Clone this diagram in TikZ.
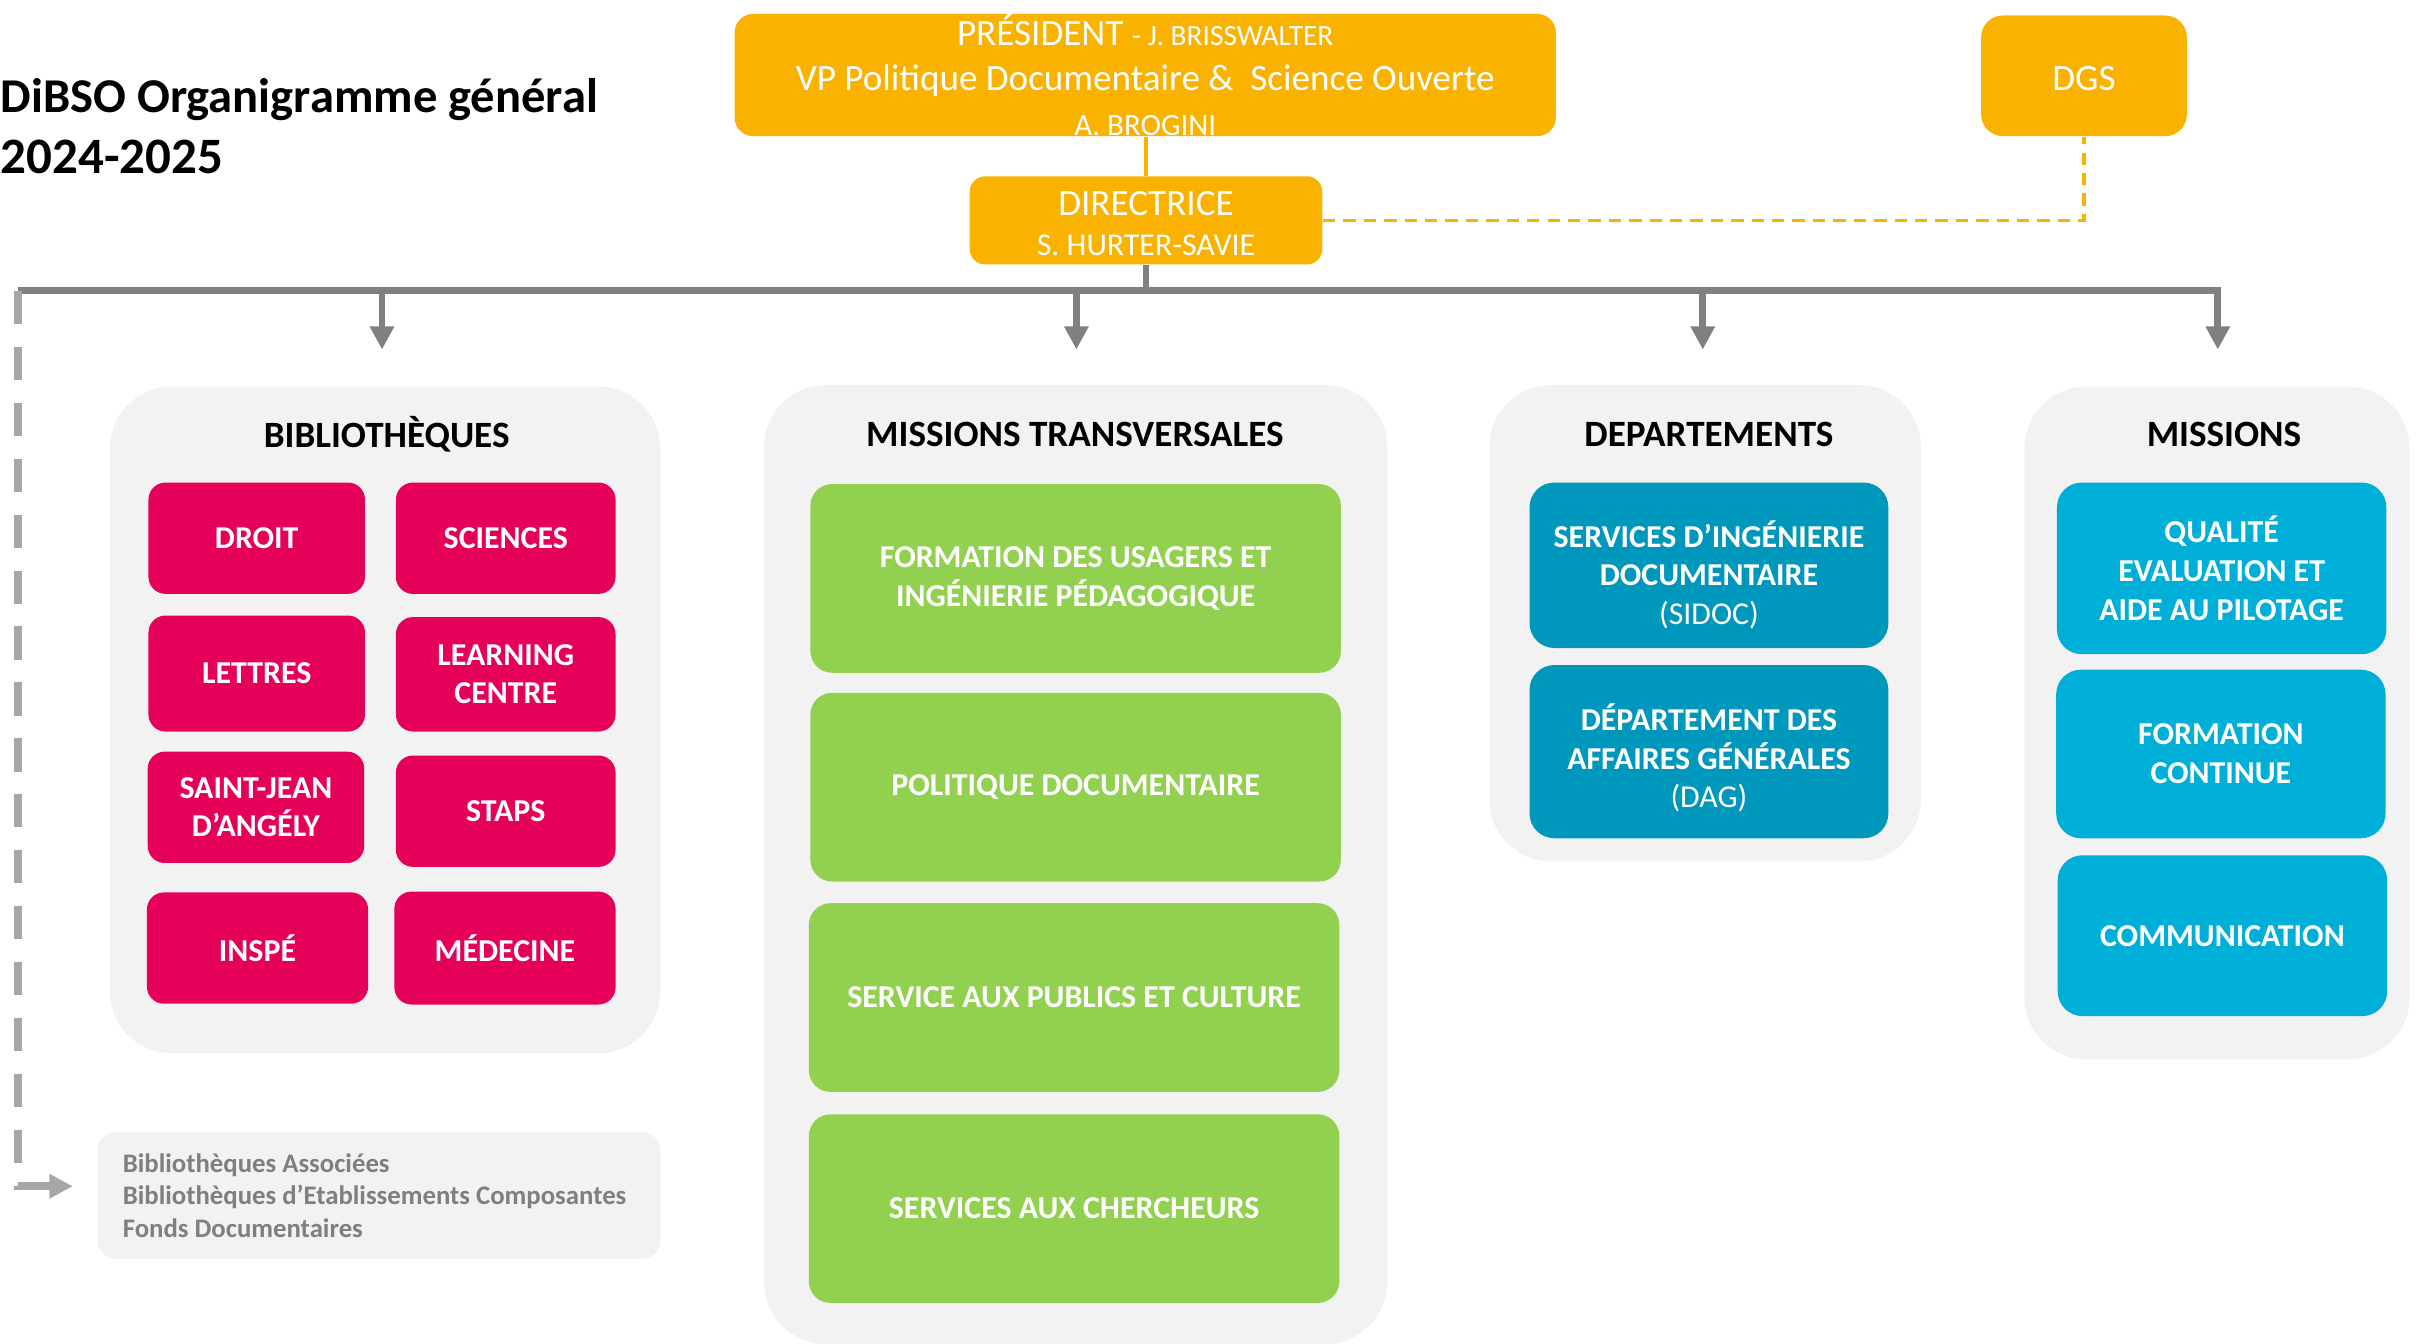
\documentclass[tikz,border=0pt]{standalone}
\usepackage{fontspec}
\setmainfont{Carlito}
\usetikzlibrary{arrows.meta}
\definecolor{orangeC}{RGB}{249,178,0}
\definecolor{pinkC}{RGB}{229,0,90}
\definecolor{greenC}{RGB}{146,208,80}
\definecolor{tealC}{RGB}{0,151,188}
\definecolor{cyanC}{RGB}{0,175,215}
\definecolor{panelC}{RGB}{242,242,242}
\definecolor{treeC}{RGB}{128,128,128}
\definecolor{dashC}{RGB}{166,166,166}
\definecolor{greytext}{RGB}{127,127,127}
\begin{document}
\begin{tikzpicture}[x=0.5pt,y=-0.5pt,
  panel/.style={fill=panelC, rounded corners=20pt, inner sep=0pt},
  ptitle/.style={font=\fontsize{12}{14}\selectfont\bfseries, text=black},
  boxfont/.style={text=white, align=center, inner sep=0pt,
    font=\fontsize{10.3}{12.5}\selectfont\bfseries},
  box/.style={rounded corners=6pt, boxfont},
  pinkbox/.style={box, fill=pinkC, rounded corners=5.5pt},
  greenbox/.style={box, fill=greenC, rounded corners=7pt, minimum width=171.5pt, minimum height=61pt},
  tealbox/.style={box, fill=tealC, rounded corners=8pt, minimum width=116pt},
  cyanbox/.style={box, fill=cyanC, rounded corners=8pt, minimum width=106.5pt},
  orbox/.style={fill=orangeC, text=white, align=center, inner sep=0pt},
  treeline/.style={draw=treeC, line width=2.2pt},
  tiptri/.style={-{Triangle[length=7.5pt,width=7.5pt]}},
  dashline/.style={draw=dashC, line width=2.6pt, dash pattern=on 10.7pt off 7.39pt},
  orline/.style={draw=orangeC, line width=1.5pt},
  ordash/.style={draw=orangeC, line width=1.1pt, dash pattern=on 4pt off 2.6pt}
]
\useasboundingbox (0,0) rectangle (1568,869);

% title
\node[anchor=base west, inner sep=0pt, font=\fontsize{15.7}{20}\selectfont\bfseries] (title1) at (0,73) {DiBSO Organigramme général};
\node[anchor=base west, inner sep=0pt, font=\fontsize{16.5}{20}\selectfont\bfseries] (title2) at (0,112) {2024-2025};

% top boxes
\node[orbox, rounded corners=6pt, minimum width=265.5pt, minimum height=39.5pt,
  font=\fontsize{12}{14.5}\selectfont] (pres) at (740.5,48.5)
  {PRÉSIDENT {\fontsize{9.5}{14.5}\selectfont - J. BRISSWALTER}\\
   VP Politique Documentaire \&\ \ Science Ouverte\\
   {\fontsize{10}{14.5}\selectfont A. BROGINI}};
\node[orbox, rounded corners=5pt, minimum width=114pt, minimum height=28.5pt,
  font=\fontsize{12}{13}\selectfont,
  label={[orbox, fill=none, font=\fontsize{12}{13}\selectfont, yshift=-1pt]center:{DIRECTRICE\\ {\fontsize{10.3}{13}\selectfont S. HURTER-SAVIE}}}]
  (dir) at (741,142.5) {};
\node[orbox, rounded corners=7pt, minimum width=66.5pt, minimum height=39pt,
  font=\fontsize{12}{14}\selectfont,
  label={[orbox, fill=none, font=\fontsize{12}{14}\selectfont, yshift=-1pt]center:DGS}] (dgs) at (1347.5,49) {};

% connectors top
\draw[orline] (dir.north |- pres.south) -- (dir.north);
\draw[ordash] (dir.east) -- (dir.east -| dgs.south) -- (dgs.south);

% tree
\coordinate (busL) at (11.6,188);
\coordinate (busR) at (1434,188);
\coordinate (tipB) at (247,226);
\coordinate (tipT) at (696,226);
\coordinate (tipD) at (1101,226);
\coordinate (tipM) at (1434,226);
\coordinate (elbow) at (11.6,767);
\coordinate (tipA) at (47,767);
\draw[treeline] (dir.south) -- (dir.south |- busL);
\draw[treeline, tiptri, line join=miter] (busL) -- (busR) -- (tipM);
\foreach \t in {tipB,tipT,tipD} \draw[treeline, tiptri] (\t |- busL) -- (\t);
\draw[dashline, tiptri, line join=miter] (busL) -- (elbow) -- (tipA);

% panels
\node[panel, minimum width=178pt, minimum height=215.5pt] (pbib) at (249,465.5) {};
\node[panel, minimum width=201.5pt, minimum height=310pt] (pmt) at (695.5,559) {};
\node[panel, minimum width=139.5pt, minimum height=154pt] (pdep) at (1102.5,403) {};
\node[panel, minimum width=124.5pt, minimum height=217.5pt] (pmis) at (1433.5,467.5) {};

\node[ptitle] (tbib) at (250,281) {BIBLIOTHÈQUES};
\node[ptitle] (tmt) at (695,281) {MISSIONS TRANSVERSALES};
\node[ptitle] (tdep) at (1105,281) {DEPARTEMENTS};
\node[ptitle] (tmis) at (1438,281) {MISSIONS};

% bibliotheques
\node[pinkbox, minimum width=70pt, minimum height=36pt] (droit) at (166,348) {DROIT};
\node[pinkbox, minimum width=71pt, minimum height=36pt] (sciences) at (327,348) {SCIENCES};
\node[pinkbox, minimum width=70pt, minimum height=37.5pt] (lettres) at (166,435.5) {LETTRES};
\node[pinkbox, minimum width=71pt, minimum height=37pt] (learning) at (327,436) {LEARNING\\CENTRE};
\node[pinkbox, minimum width=70pt, minimum height=36pt] (sjean) at (165.5,522) {SAINT-JEAN\\D’ANGÉLY};
\node[pinkbox, minimum width=71pt, minimum height=36pt] (staps) at (327,524.5) {STAPS};
\node[pinkbox, minimum width=71.5pt, minimum height=36pt] (inspe) at (166.5,613) {INSPÉ};
\node[pinkbox, minimum width=71.5pt, minimum height=36.5pt] (medecine) at (326.5,613) {MÉDECINE};

% missions transversales
\node[greenbox] (form) at (695.5,374) {FORMATION DES USAGERS ET\\INGÉNIERIE PÉDAGOGIQUE};
\node[greenbox] (poldoc) at (695.5,509) {POLITIQUE DOCUMENTAIRE};
\node[greenbox] (spc) at (694.5,645) {SERVICE AUX PUBLICS ET CULTURE};
\node[greenbox] (sac) at (694.5,781.5) {SERVICES AUX CHERCHEURS};

% departements
\node[tealbox, minimum height=53.5pt,
  label={[boxfont, yshift=-3pt]center:{SERVICES D’INGÉNIERIE\\DOCUMENTAIRE\\\mdseries(SIDOC)}}]
  (sidoc) at (1105,365.5) {};
\node[tealbox, minimum height=56pt,
  label={[boxfont, yshift=-2pt]center:{DÉPARTEMENT DES\\AFFAIRES GÉNÉRALES\\\mdseries(DAG)}}]
  (dag) at (1105,486) {};

% missions
\node[cyanbox, minimum height=55.5pt] (qual) at (1436.5,367.5)
  {QUALITÉ\\EVALUATION ET\\AIDE AU PILOTAGE};
\node[cyanbox, minimum height=54.5pt] (fc) at (1436,487.5) {FORMATION\\CONTINUE};
\node[cyanbox, minimum height=52pt] (com) at (1437,605) {COMMUNICATION};

% bottom-left box
\node[fill=panelC, rounded corners=6pt, minimum width=182pt, minimum height=41pt, inner sep=0pt] (assoc) at (245,773) {};
\node[anchor=west, align=left, inner sep=0pt, text=greytext,
  font=\fontsize{8.65}{10.5}\selectfont\bfseries] (assoctxt) at (79,773)
  {Bibliothèques Associées\\Bibliothèques d’Etablissements Composantes\\Fonds Documentaires};
\end{tikzpicture}
\end{document}
